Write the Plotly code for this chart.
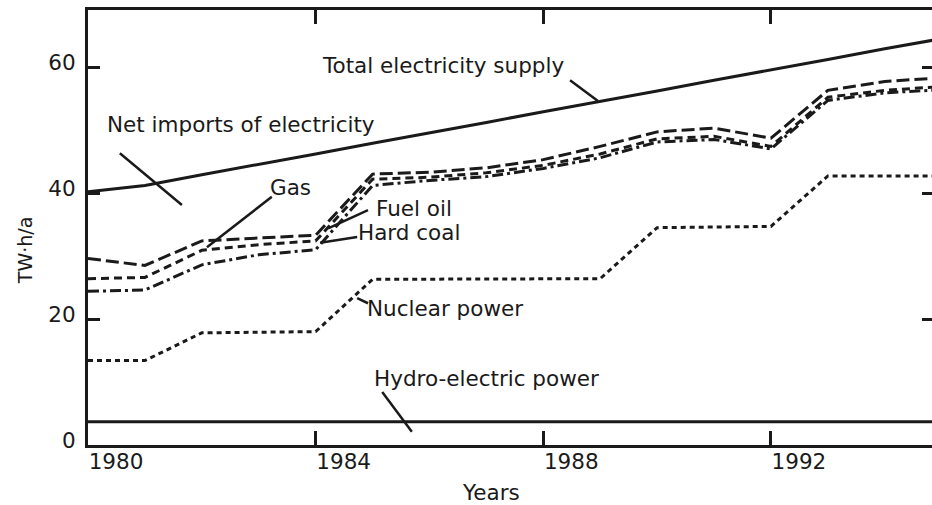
import plotly.graph_objects as go

# ---- data (TW·h/a, cumulative boundaries) ----
years = [1980, 1981, 1982, 1983, 1984, 1985, 1986, 1987, 1988, 1989, 1990, 1991, 1992, 1993, 1994, 1995]
total_supply = [40.2, 41.2, 42.9, 44.5, 46.2, 47.9, 49.5, 51.2, 52.9, 54.5, 56.2, 57.9, 59.5, 61.2, 62.9, 64.5]
gas = [29.6, 28.5, 32.4, 32.9, 33.3, 43.0, 43.3, 44.0, 45.3, 47.4, 49.7, 50.3, 48.7, 56.3, 57.7, 58.3]
fuel_oil = [26.4, 26.6, 30.9, 31.8, 32.4, 42.2, 42.5, 43.2, 44.4, 46.2, 48.6, 49.0, 47.4, 55.2, 56.3, 56.9]
hard_coal = [24.4, 24.6, 28.6, 30.2, 31.0, 41.2, 42.0, 42.6, 43.9, 45.6, 48.1, 48.5, 47.0, 54.7, 55.9, 56.4]
nuclear = [13.4, 13.4, 17.8, 17.9, 18.0, 26.3, 26.3, 26.3, 26.3, 26.4, 34.5, 34.6, 34.7, 42.7, 42.7, 42.7]
hydro = [3.7, 3.7, 3.7, 3.7, 3.7, 3.7, 3.7, 3.7, 3.7, 3.7, 3.7, 3.7, 3.7, 3.7, 3.7, 3.7]

x_ticks = [1980, 1984, 1988, 1992]
y_ticks = [0, 20, 40, 60]

# label texts with their anchor positions (data coords) and leader lines
labels = [
    ("Total electricity supply", 1986.24, 60.2),
    ("Net imports of electricity", 1982.69, 50.8),
    ("Gas", 1983.55, 40.8),
    ("Fuel oil", 1985.73, 37.6),
    ("Hard coal", 1985.64, 33.7),
    ("Nuclear power", 1986.27, 21.7),
    ("Hydro-electric power", 1987.01, 10.6),
]
leaders = [
    (1988.47, 57.9, 1988.96, 54.6),
    (1980.56, 46.3, 1981.65, 38.1),
    (1983.23, 39.4, 1982.09, 31.4),
    (1984.92, 37.3, 1984.22, 34.4),
    (1984.73, 33.0, 1984.08, 32.1),
    (1984.92, 22.5, 1984.73, 23.3),
    (1985.17, 8.4, 1985.69, 2.1),
]

INK = "#1a1a1a"
FONT = "DejaVu Sans"
FS = 21.5

fig = go.Figure()

series = [
    (total_supply, "solid"),
    (gas, "13px,5px"),
    (fuel_oil, "8px,5px"),
    (hard_coal, "11px,4px,3px,4px"),
    (nuclear, "5px,4px"),
    (hydro, "solid"),
]
for vals, dash in series:
    fig.add_trace(go.Scatter(x=years, y=vals, mode="lines",
                             line=dict(color=INK, width=3, dash=dash),
                             showlegend=False, hoverinfo="skip"))

# helper trace so the right-hand tick axis is drawn
fig.add_trace(go.Scatter(x=years[:1], y=hydro[:1], yaxis="y2", mode="lines",
                         line=dict(width=0), showlegend=False, hoverinfo="skip"))

for text, x, y in labels:
    fig.add_annotation(x=x, y=y, text=text, showarrow=False,
                       font=dict(family=FONT, size=FS, color=INK),
                       xanchor="center", yanchor="middle")
for x0, y0, x1, y1 in leaders:
    fig.add_shape(type="line", x0=x0, y0=y0, x1=x1, y1=y1,
                  xref="x", yref="y", line=dict(color=INK, width=2.5))

# axis titles
fig.add_annotation(text="Years", xref="paper", yref="paper", x=0.4775, y=-0.110,
                   showarrow=False, font=dict(family=FONT, size=FS, color=INK),
                   xanchor="center", yanchor="middle")
fig.add_annotation(text="TW·h/a", xref="paper", yref="paper", x=-0.0746, y=0.448,
                   showarrow=False, textangle=-90,
                   font=dict(family=FONT, size=19, color=INK),
                   xanchor="center", yanchor="middle")

y_range = [0, 69.05]
fig.update_layout(
    width=932, height=505,
    margin=dict(l=88, r=0, t=10, b=60),
    paper_bgcolor="white", plot_bgcolor="white",
    font=dict(family=FONT, color=INK),
    xaxis=dict(range=[1980, 1994.83], tickvals=x_ticks, ticktext=[str(v) for v in x_ticks],
               ticks="inside", ticklen=14, tickwidth=3, tickcolor=INK,
               showline=True, linewidth=3, linecolor=INK, mirror="ticks",
               showgrid=False, zeroline=False,
               tickfont=dict(family=FONT, size=FS, color=INK),
               ticklabelshift=28, ticklabelstandoff=-5),
    yaxis=dict(range=y_range, tickvals=y_ticks, ticks="inside", ticklen=12,
               tickwidth=3, tickcolor=INK, showline=True, linewidth=3,
               linecolor=INK, mirror=False, showgrid=False, zeroline=False,
               tickfont=dict(family=FONT, size=FS, color=INK),
               ticklabelshift=-5, ticklabelstandoff=5),
    yaxis2=dict(range=y_range, tickvals=y_ticks, overlaying="y", side="right",
                ticks="inside", ticklen=10, tickwidth=3, tickcolor=INK,
                showline=False, showticklabels=False, showgrid=False, zeroline=False),
)

fig.write_html("out.html", config={"displayModeBar": False},
               post_script="document.body.style.margin='0';document.body.style.overflow='hidden';")
